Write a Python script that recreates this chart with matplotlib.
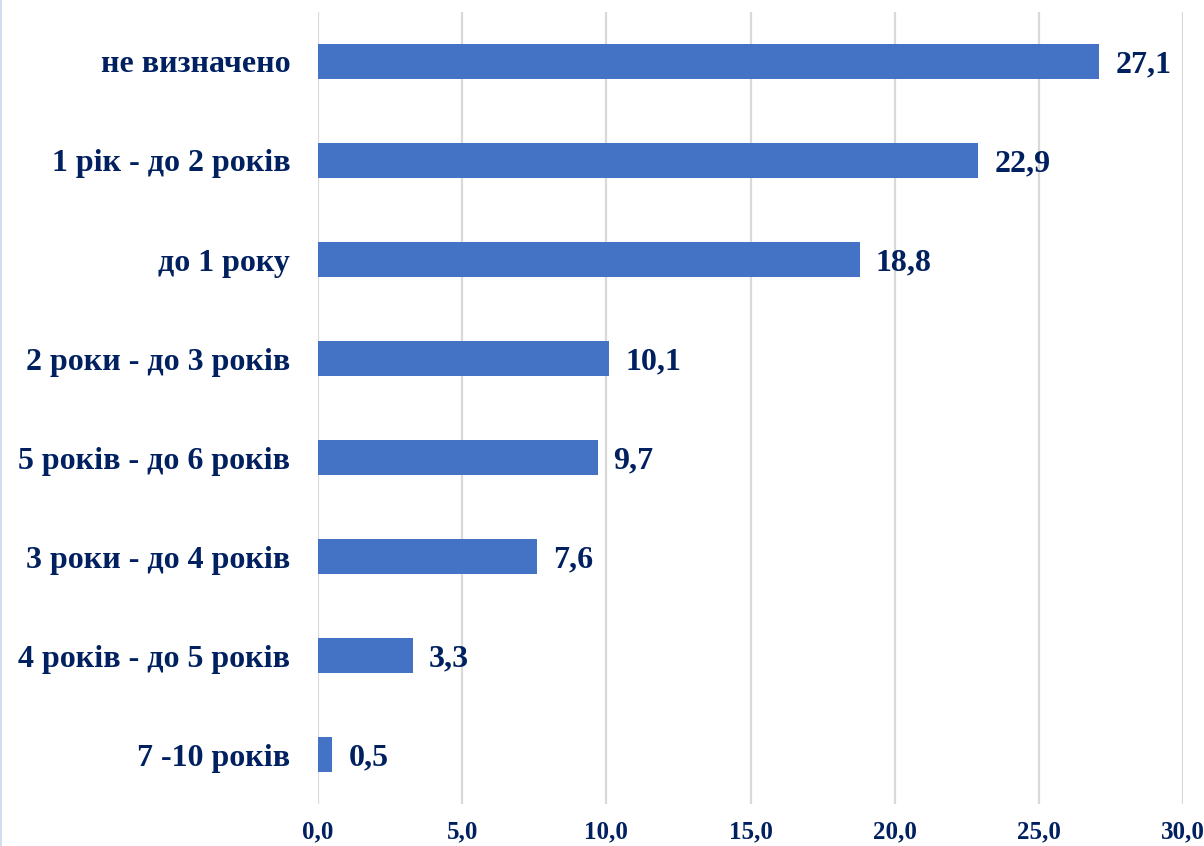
import matplotlib.pyplot as plt
from matplotlib.lines import Line2D

categories = ['не визначено', '1 рік - до 2 років', 'до 1 року', '2 роки - до 3 років',
              '5 років - до 6 років', '3 роки - до 4 років', '4 років - до 5 років', '7 -10 років']
values = [27.1, 22.9, 18.8, 10.1, 9.7, 7.6, 3.3, 0.5]
xticks = [0, 5, 10, 15, 20, 25, 30]

navy = '#002060'
plt.rcParams['font.family'] = ['Liberation Serif', 'DejaVu Serif']
plt.rcParams['font.weight'] = 'bold'

fig = plt.figure(figsize=(12.04, 8.46), dpi=100)
ax = fig.add_axes([318/1204, 1 - 804/846, 865/1204, 792/846])

y = list(range(len(categories)))[::-1]
ax.barh(y, values, height=0.35, color='#4472C4', zorder=3)
for yi, v in zip(y, values):
    ax.text(v + 0.55, yi, f'{v:.1f}'.replace('.', ','), va='center_baseline', ha='left',
            fontsize=23, fontweight='bold', color=navy)

ax.set_xlim(0, 30)
ax.set_ylim(-0.5, len(categories) - 0.5)
ax.set_yticks(y)
ax.set_yticklabels(categories, fontsize=23, fontweight='bold', color=navy,
                   va='center_baseline')
ax.set_xticks(xticks)
ax.set_xticklabels([f'{t:.1f}'.replace('.', ',') for t in xticks], fontsize=18,
                   fontweight='bold', color=navy)
ax.tick_params(axis='y', length=0, pad=20)
ax.tick_params(axis='x', length=0, pad=12)
ax.grid(axis='x', color='#D9D9D9', linewidth=1.6, zorder=0)
for s in ax.spines.values():
    s.set_visible(False)

fig.add_artist(Line2D([0.6/1204, 0.6/1204], [0, 1], transform=fig.transFigure,
                      color='#C9D8EE', linewidth=1.2))

fig.savefig('out.png', dpi=100)
